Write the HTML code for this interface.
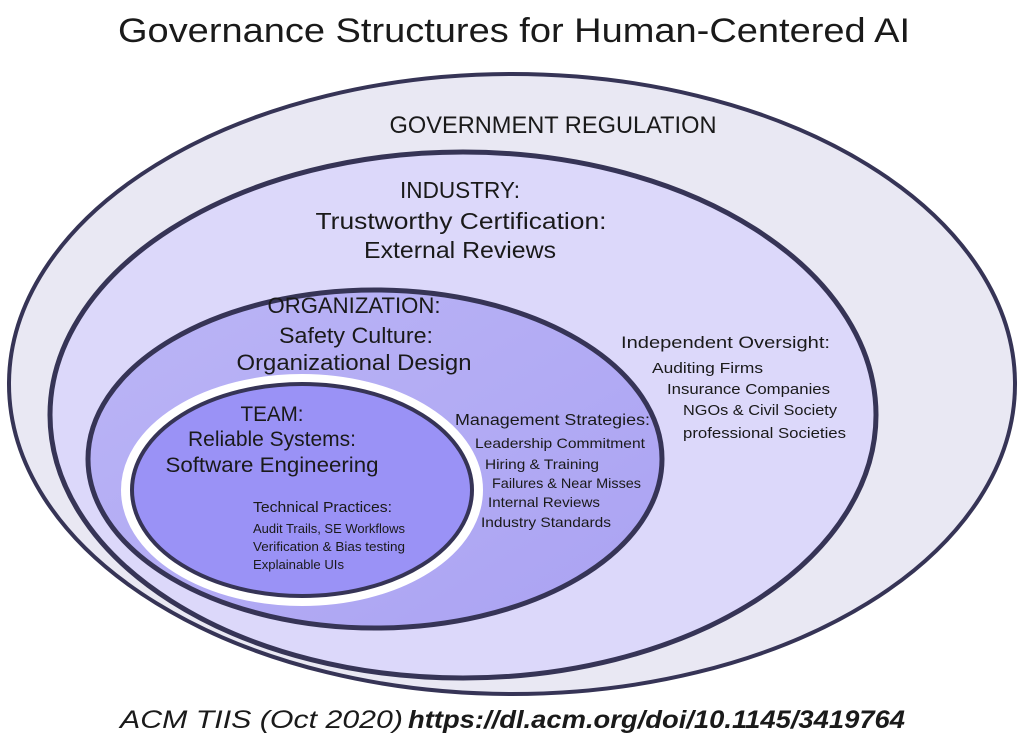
<!DOCTYPE html>
<html><head><meta charset="utf-8"><style>
html,body{margin:0;padding:0;background:#fff;}
svg{display:block;}
text{font-family:"Liberation Sans",sans-serif;fill:#1a1a1a;}
</style></head><body>
<svg width="1024" height="750" viewBox="0 0 1024 750" xmlns="http://www.w3.org/2000/svg">
<defs>
<linearGradient id="og" x1="0" y1="0" x2="1" y2="1">
<stop offset="0" stop-color="#bbb5f6"/><stop offset="1" stop-color="#aaa2f2"/>
</linearGradient>
</defs>
<text x="514" y="42" font-size="34" text-anchor="middle" textLength="792" lengthAdjust="spacingAndGlyphs">Governance Structures for Human-Centered AI</text>

<ellipse cx="512" cy="384" rx="503" ry="310" fill="#e9e8f3" stroke="#363456" stroke-width="4"/>
<ellipse cx="463" cy="415" rx="413" ry="263" fill="#dcd8fa" stroke="#363456" stroke-width="5"/>
<ellipse cx="375" cy="459" rx="287" ry="169" fill="url(#og)" stroke="#363456" stroke-width="5"/>
<ellipse cx="302" cy="490" rx="175" ry="110" fill="#9a92f6" stroke="#fff" stroke-width="12"/>
<ellipse cx="302" cy="490" rx="170" ry="106" fill="#9a92f6" stroke="#363456" stroke-width="4"/>

<text x="553" y="133" font-size="24" text-anchor="middle" textLength="327" lengthAdjust="spacingAndGlyphs">GOVERNMENT REGULATION</text>

<text x="460" y="198" font-size="23" text-anchor="middle" textLength="120" lengthAdjust="spacingAndGlyphs">INDUSTRY:</text>
<text x="461" y="229" font-size="23" text-anchor="middle" textLength="291" lengthAdjust="spacingAndGlyphs">Trustworthy Certification:</text>
<text x="460" y="258" font-size="23" text-anchor="middle" textLength="192" lengthAdjust="spacingAndGlyphs">External Reviews</text>

<text x="354" y="313" font-size="22" text-anchor="middle" textLength="173" lengthAdjust="spacingAndGlyphs">ORGANIZATION:</text>
<text x="356" y="343" font-size="22" text-anchor="middle" textLength="154" lengthAdjust="spacingAndGlyphs">Safety Culture:</text>
<text x="354" y="370" font-size="22" text-anchor="middle" textLength="235" lengthAdjust="spacingAndGlyphs">Organizational Design</text>

<text x="272" y="421" font-size="21" text-anchor="middle" textLength="63" lengthAdjust="spacingAndGlyphs">TEAM:</text>
<text x="272" y="446" font-size="21" text-anchor="middle" textLength="168" lengthAdjust="spacingAndGlyphs">Reliable Systems:</text>
<text x="272" y="472" font-size="21" text-anchor="middle" textLength="213" lengthAdjust="spacingAndGlyphs">Software Engineering</text>

<text x="253" y="512" font-size="15" textLength="139" lengthAdjust="spacingAndGlyphs">Technical Practices:</text>
<text x="253" y="533" font-size="12.5" textLength="152" lengthAdjust="spacingAndGlyphs">Audit Trails, SE Workflows</text>
<text x="253" y="551" font-size="12.5" textLength="152" lengthAdjust="spacingAndGlyphs">Verification &amp; Bias testing</text>
<text x="253" y="569" font-size="12.5" textLength="91" lengthAdjust="spacingAndGlyphs">Explainable UIs</text>

<text x="455" y="425" font-size="16" textLength="195" lengthAdjust="spacingAndGlyphs">Management Strategies:</text>
<text x="475" y="448" font-size="14" textLength="170" lengthAdjust="spacingAndGlyphs">Leadership Commitment</text>
<text x="485" y="469" font-size="14" textLength="114" lengthAdjust="spacingAndGlyphs">Hiring &amp; Training</text>
<text x="492" y="488" font-size="14" textLength="149" lengthAdjust="spacingAndGlyphs">Failures &amp; Near Misses</text>
<text x="488" y="507" font-size="14" textLength="112" lengthAdjust="spacingAndGlyphs">Internal Reviews</text>
<text x="481" y="527" font-size="14" textLength="130" lengthAdjust="spacingAndGlyphs">Industry Standards</text>

<text x="621" y="348" font-size="17" textLength="209" lengthAdjust="spacingAndGlyphs">Independent Oversight:</text>
<text x="652" y="373" font-size="15" textLength="111" lengthAdjust="spacingAndGlyphs">Auditing Firms</text>
<text x="667" y="394" font-size="15" textLength="163" lengthAdjust="spacingAndGlyphs">Insurance Companies</text>
<text x="683" y="415" font-size="15" textLength="154" lengthAdjust="spacingAndGlyphs">NGOs &amp; Civil Society</text>
<text x="683" y="438" font-size="15" textLength="163" lengthAdjust="spacingAndGlyphs">professional Societies</text>

<text x="120" y="728" font-size="25" font-style="italic" textLength="283" lengthAdjust="spacingAndGlyphs">ACM TIIS (Oct 2020)</text>
<text x="408" y="728" font-size="25" font-style="italic" font-weight="bold" textLength="497" lengthAdjust="spacingAndGlyphs">https://dl.acm.org/doi/10.1145/3419764</text>
</svg>
</body></html>
